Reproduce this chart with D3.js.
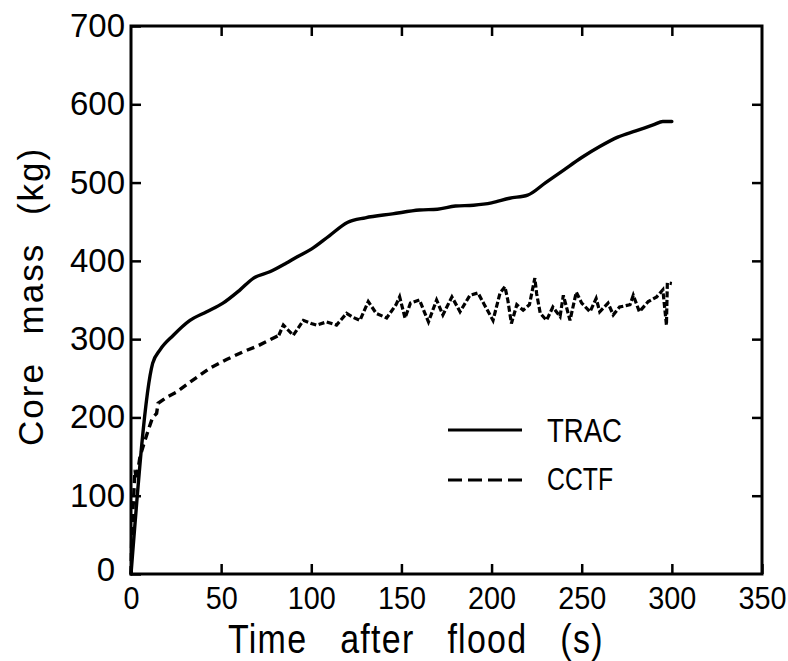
<!DOCTYPE html>
<html>
<head>
<meta charset="utf-8">
<script src="https://cdn.jsdelivr.net/npm/d3@7"></script>
<style>
  html, body { margin: 0; padding: 0; background: #fff; }
  svg { display: block; }
  text { font-family: "Liberation Sans", Arial, sans-serif; fill: #000; }
</style>
</head>
<body>
<svg id="chart" width="788" height="661"></svg>
<script>
// ---- data ----
const xTicks = [0, 50, 100, 150, 200, 250, 300, 350];
const yTicks = [0, 100, 200, 300, 400, 500, 600, 700];
const seriesNames = ["TRAC", "CCTF"];

const tracTime = [0, 12, 16, 23.5, 32.7, 42, 51, 60.5, 68, 77, 86, 92, 100, 110, 120, 130, 145, 160, 170, 180, 190, 200, 210, 220, 230, 240, 250, 260, 270, 280, 290, 295, 300];
const tracMass = [0, 269, 286, 305, 324, 335, 346, 363, 378, 386, 397, 405, 415, 432, 449, 455, 460, 465, 466, 470, 471, 474, 480, 484, 500, 516, 532, 546, 558, 566, 574, 578, 578];

const cctfTime = [0, 0.5, 1.5, 2.2, 3, 5, 7, 9.6, 12, 14.2, 15, 20, 25, 34.5, 43.8, 53, 62.3, 70, 77, 82,
  84.5, 87, 90, 93, 95.6, 100, 103, 108.5, 114, 119.6, 123, 127, 131.6, 136, 141.8, 147, 149, 152, 155, 160,
  165, 169.5, 173, 178, 182.5, 188, 192.5, 196, 200.8, 204.7, 207.4, 209, 211, 214, 217.5, 221, 224, 225, 227,
  230.5, 234, 238, 239.8, 243.5, 247, 250, 254.6, 258, 260, 264.6, 267.5, 271, 276.8, 278.6, 282, 286.9, 291.6,
  295, 297, 297.5, 300];
const cctfMass = [0, 56, 100, 133, 120, 150, 165, 184, 200, 205, 218, 226, 232, 248, 263, 274, 284, 291, 299, 305,
  318, 312, 305, 315, 324, 320, 318, 322, 318, 333, 328, 324, 348, 333, 327, 344, 354, 327, 346, 350,
  322, 350, 331, 354, 335, 356, 359, 344, 324, 359, 367, 350, 320, 344, 337, 344, 378, 358, 333,
  324, 341, 329, 356, 324, 360, 346, 335, 352, 335, 346, 331, 341, 344, 356, 335, 348, 354,
  363, 318, 372, 371];

// ---- layout ----
const svg = d3.select("#chart");
const x = d3.scaleLinear().domain([0, 350]).range([131, 762]);
const y = d3.scaleLinear().domain([0, 700]).range([574, 26]);

const tracData = tracTime.map((t, i) => [t, tracMass[i]]);
const cctfData = cctfTime.map((t, i) => [t, cctfMass[i]]);

// frame
svg.append("rect")
  .attr("x", x(0)).attr("y", y(700))
  .attr("width", x(350) - x(0)).attr("height", y(0) - y(700))
  .attr("fill", "none").attr("stroke", "#000").attr("stroke-width", 3);

function styleAxis(g) {
  g.select(".domain").remove();
  g.selectAll(".tick line").attr("stroke", "#000").attr("stroke-width", 2.5);
}

// bottom axis with labels
const gx = svg.append("g").attr("transform", `translate(0,${y(0)})`)
  .call(d3.axisBottom(x).tickValues(xTicks).tickSizeInner(-10).tickSizeOuter(0).tickPadding(12).tickFormat(d3.format("d")));
styleAxis(gx);
gx.selectAll(".tick text").attr("font-size", 32).attr("font-family", "Liberation Sans, Arial, sans-serif")
  .attr("transform", "scale(0.9,1)");

// top ticks
const gt = svg.append("g").attr("transform", `translate(0,${y(700)})`)
  .call(d3.axisTop(x).tickValues(xTicks.slice(1, -1)).tickSizeInner(-10).tickSizeOuter(0).tickFormat(""));
styleAxis(gt);

// left axis with labels
const gy = svg.append("g").attr("transform", `translate(${x(0)},0)`)
  .call(d3.axisLeft(y).tickValues(yTicks).tickSizeInner(-10).tickSizeOuter(0).tickPadding(6).tickFormat(d3.format("d")));
styleAxis(gy);
gy.selectAll(".tick text").attr("font-size", 33).attr("font-family", "Liberation Sans, Arial, sans-serif");
gy.selectAll(".tick").filter(d => d === 0).select("text").attr("dx", -10).attr("dy", "0.2em");

// right ticks
const gr = svg.append("g").attr("transform", `translate(${x(350)},0)`)
  .call(d3.axisRight(y).tickValues(yTicks.slice(1, -1)).tickSizeInner(-10).tickSizeOuter(0).tickFormat(""));
styleAxis(gr);

// lines
const line = d3.line().x(d => x(d[0])).y(d => y(d[1]));
const smoothLine = d3.line().x(d => x(d[0])).y(d => y(d[1])).curve(d3.curveMonotoneX);
svg.append("path").datum(tracData)
  .attr("d", smoothLine).attr("fill", "none").attr("stroke", "#000")
  .attr("stroke-width", 3.4).attr("stroke-linejoin", "round").attr("stroke-linecap", "round");

const splitIdx = cctfTime.indexOf(82);
svg.append("path").datum(cctfData.slice(0, splitIdx + 1))
  .attr("d", line).attr("fill", "none").attr("stroke", "#000")
  .attr("stroke-width", 3.4).attr("stroke-dasharray", "8,5");
svg.append("path").datum(cctfData.slice(splitIdx))
  .attr("d", line).attr("fill", "none").attr("stroke", "#000")
  .attr("stroke-width", 3.2).attr("stroke-dasharray", "6,2.5");

// legend
const legend = svg.append("g");
legend.append("line").attr("x1", 448).attr("x2", 522).attr("y1", 430).attr("y2", 430)
  .attr("stroke", "#000").attr("stroke-width", 3.2);
legend.append("line").attr("x1", 448).attr("x2", 522).attr("y1", 480).attr("y2", 480)
  .attr("stroke", "#000").attr("stroke-width", 3.2).attr("stroke-dasharray", "14,6");
legend.append("text").attr("x", 547).attr("y", 442).attr("font-size", 34)
  .attr("textLength", 75).attr("lengthAdjust", "spacingAndGlyphs").text(seriesNames[0]);
legend.append("text").attr("x", 547).attr("y", 490).attr("font-size", 32)
  .attr("textLength", 66).attr("lengthAdjust", "spacingAndGlyphs").text(seriesNames[1]);

// axis titles (wide word gaps as in the lettering)
svg.append("text").attr("transform", "translate(228,653) scale(0.85,1)").attr("font-size", 40)
  .attr("letter-spacing", 1.5).attr("word-spacing", 26)
  .text("Time after flood (s)");
svg.append("text").attr("transform", "translate(43,446) rotate(-90)").attr("font-size", 35)
  .attr("letter-spacing", 2).attr("word-spacing", 16)
  .text("Core mass (kg)");
</script>
</body>
</html>
